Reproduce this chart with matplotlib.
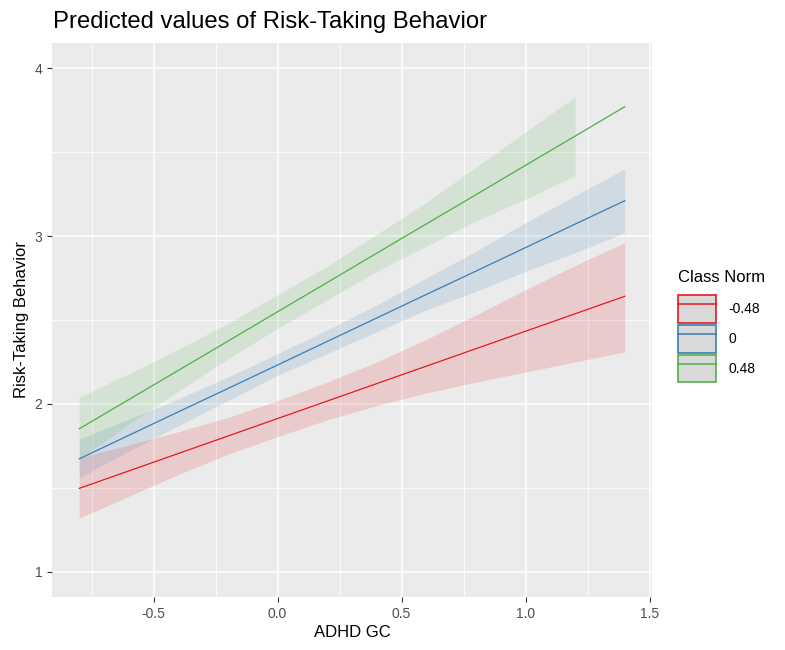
import numpy as np
import matplotlib.pyplot as plt
from matplotlib.patches import Patch
from matplotlib.lines import Line2D
from matplotlib.legend_handler import HandlerTuple

plt.rcParams['font.family'] = ['Liberation Sans', 'DejaVu Sans']

# ADHD GC grid
x = [-0.8, -0.6, -0.4, -0.2, 0.0, 0.2, 0.4, 0.6, 0.8, 1.0, 1.2, 1.4]

# Class Norm = -0.48
red_fit = [1.497, 1.601, 1.705, 1.809, 1.913, 2.017, 2.121, 2.225, 2.329, 2.433, 2.537, 2.641]
red_lo = [1.32, 1.45, 1.58, 1.70, 1.805, 1.905, 1.99, 2.065, 2.13, 2.19, 2.25, 2.31]
red_hi = [1.68, 1.755, 1.835, 1.92, 2.02, 2.13, 2.25, 2.385, 2.53, 2.68, 2.825, 2.96]

# Class Norm = 0
blue_fit = [1.673, 1.813, 1.953, 2.092, 2.232, 2.372, 2.512, 2.652, 2.791, 2.931, 3.071, 3.21]
blue_lo = [1.56, 1.72, 1.87, 2.02, 2.17, 2.30, 2.43, 2.56, 2.67, 2.79, 2.90, 3.02]
blue_hi = [1.79, 1.91, 2.03, 2.16, 2.30, 2.44, 2.59, 2.75, 2.91, 3.08, 3.24, 3.40]

# Class Norm = 0.48 (band stops at 1.2)
green_fit = [1.852, 2.026, 2.20, 2.374, 2.549, 2.723, 2.898, 3.072, 3.246, 3.421, 3.595, 3.77]
green_lo = [1.67, 1.88, 2.075, 2.27, 2.45, 2.62, 2.79, 2.94, 3.09, 3.22, 3.36]
green_hi = [2.04, 2.18, 2.325, 2.48, 2.65, 2.82, 3.01, 3.20, 3.41, 3.62, 3.83]

groups = ["-0.48", "0", "0.48"]
colors = ["#E41A1C", "#377EB8", "#4DAF4A"]

fig = plt.figure(figsize=(7.85, 6.5), dpi=100)
ax = fig.add_axes([0.0662, 0.0815, 0.7644, 0.8525])
ax.set_facecolor("#EBEBEB")

series = [(red_fit, red_lo, red_hi), (blue_fit, blue_lo, blue_hi), (green_fit, green_lo, green_hi)]
for (fit, lo, hi), col in zip(series, colors):
    xb = x[:len(lo)]
    ax.fill_between(xb, lo, hi, color=col, alpha=0.15, lw=0)
for (fit, lo, hi), col in zip(series, colors):
    ax.plot(x, fit, color=col, lw=0.9)

ax.set_xlim(-0.91, 1.51)
ax.set_ylim(0.85, 4.15)
ax.set_xticks([-0.5, 0.0, 0.5, 1.0, 1.5])
ax.set_xticklabels(["-0.5", "0.0", "0.5", "1.0", "1.5"])
ax.set_yticks([1, 2, 3, 4])
ax.set_xticks([-0.75, -0.25, 0.25, 0.75, 1.25], minor=True)
ax.set_yticks([1.5, 2.5, 3.5], minor=True)
ax.grid(True, which="major", color="white", lw=1.1)
ax.grid(True, which="minor", color="white", lw=0.55)
ax.set_axisbelow(True)
for s in ax.spines.values():
    s.set_visible(False)
ax.tick_params(which="major", colors="#333333", labelcolor="#4D4D4D", labelsize=10, length=3.5, width=0.8)
ax.tick_params(which="minor", length=0)

ax.set_xlabel("ADHD GC", fontsize=12, color="black", labelpad=3)
ax.set_ylabel("Risk-Taking Behavior", fontsize=12, color="black", labelpad=4)
fig.text(0.0675, 0.966, "Predicted values of Risk-Taking Behavior", fontsize=17.2, ha="left", va="center")

handles = [(Patch(facecolor="#D9D9D9", edgecolor=c, lw=1.2), Line2D([], [], color=c, lw=1.1)) for c in colors]
leg = fig.legend(handles, groups, handler_map={tuple: HandlerTuple(ndivide=1)},
                 loc="upper left", bbox_to_anchor=(0.855, 0.595), frameon=False,
                 title="Class Norm", title_fontsize=12, fontsize=10,
                 handlelength=2.7, handleheight=2.7, labelspacing=0.15, handletextpad=0.9,
                 borderpad=0.0)
leg._legend_box.align = "left"
leg._legend_box.sep = 7

fig.savefig("out.png", dpi=100)
